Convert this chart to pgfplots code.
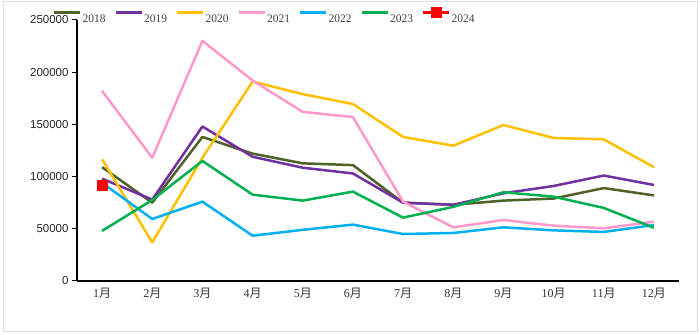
\documentclass[border=0pt]{standalone}
\usepackage{fontspec}
\setmainfont{Liberation Serif}
\newfontfamily\arial{Liberation Sans}
\newfontfamily\cjk{Noto Sans CJK SC}
\usepackage{pgfplots}
\pgfplotsset{compat=1.18}
\definecolor{c18}{HTML}{4F6228}
\definecolor{c19}{HTML}{7030A0}
\definecolor{c20}{HTML}{FFC000}
\definecolor{c21}{HTML}{FF99CC}
\definecolor{c22}{HTML}{00B0F0}
\definecolor{c23}{HTML}{00B050}
\definecolor{c24}{HTML}{FF0000}
\begin{document}
\begin{tikzpicture}
\useasboundingbox (0,0) rectangle (700bp,335bp);
\fill[white] (0,0) rectangle (700bp,335bp);
\draw[black!13, line width=1bp] (3bp,3bp) rectangle (697bp,333bp);
\begin{axis}[
  at={(77bp,54bp)}, anchor=south west,
  scale only axis, width=602bp, height=261bp,
  xmin=0.5, xmax=12.5, ymin=0, ymax=250000,
  axis lines*=left,
  axis line style={-, line width=1.3bp, black},
  xtick={1,...,12},
  xticklabels={1{\cjk 月},2{\cjk 月},3{\cjk 月},4{\cjk 月},5{\cjk 月},6{\cjk 月},7{\cjk 月},8{\cjk 月},9{\cjk 月},10{\cjk 月},11{\cjk 月},12{\cjk 月}},
  xtick style={draw=none},
  xticklabel style={font=\fontsize{12bp}{13bp}\selectfont, text=black!80, yshift=1bp},
  ytick={0,50000,100000,150000,200000,250000},
  scaled y ticks=false,
  tick align=outside,
  major tick length=5bp,
  ytick style={black, line width=1bp},
  yticklabel style={font=\arial\fontsize{11.5bp}{12bp}\selectfont, text=black!85, /pgf/number format/fixed, /pgf/number format/1000 sep={}, /pgf/number format/assume math mode=true},
  legend columns=7,
  legend style={draw=none, fill=none, at={(-0.045,1.0115)}, anchor=west,
    font=\fontsize{11.5bp}{12bp}\selectfont, text=black!75,
    /tikz/every odd column/.append style={column sep=-1bp},
    /tikz/every even column/.append style={column sep=7bp}},
  legend image code/.code={\draw[mark repeat=2,mark phase=2,#1] plot coordinates {(0bp,7bp) (13bp,7bp) (26bp,7bp)};},
  every axis plot/.append style={line width=2.5bp, line join=round},
]
\addplot[c18, mark=none] coordinates {(1,109000)(2,75000)(3,138000)(4,122000)(5,112700)(6,111000)(7,75000)(8,73000)(9,77000)(10,79000)(11,89000)(12,82000)};
\addlegendentry{2018}
\addplot[c19, mark=none] coordinates {(1,98000)(2,78000)(3,148000)(4,119000)(5,108500)(6,103000)(7,75000)(8,73000)(9,84000)(10,91000)(11,101000)(12,92000)};
\addlegendentry{2019}
\addplot[c20, mark=none] coordinates {(1,116500)(2,37000)(3,118000)(4,191000)(5,179000)(6,169500)(7,138000)(8,129600)(9,149400)(10,137000)(11,135700)(12,109000)};
\addlegendentry{2020}
\addplot[c21, mark=none] coordinates {(1,182000)(2,118000)(3,230000)(4,192000)(5,162000)(6,157000)(7,76000)(8,51400)(9,58400)(10,53000)(11,50500)(12,56800)};
\addlegendentry{2021}
\addplot[c22, mark=none] coordinates {(1,94000)(2,59400)(3,76000)(4,43400)(5,49000)(6,54000)(7,45000)(8,46000)(9,51400)(10,48500)(11,47000)(12,53600)};
\addlegendentry{2022}
\addplot[c23, mark=none] coordinates {(1,48000)(2,77600)(3,115000)(4,82700)(5,77000)(6,85600)(7,60700)(8,71000)(9,85000)(10,80800)(11,70000)(12,51000)};
\addlegendentry{2023}
\addplot[c24, mark=square*, mark size=5bp, mark options={solid, line width=0pt}] coordinates {(1,91000)};
\addlegendentry{2024}
\end{axis}
\end{tikzpicture}
\end{document}
